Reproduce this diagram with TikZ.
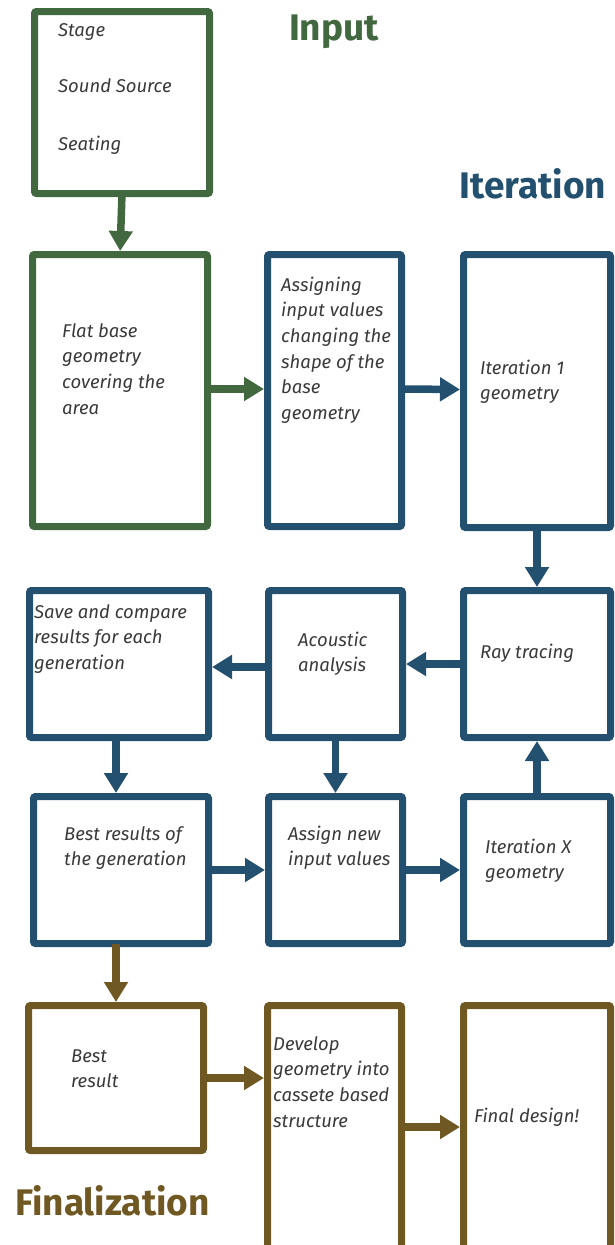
\documentclass[tikz,border=0pt]{standalone}
\usepackage{fontspec}
\setmainfont{Fira Sans}
\usetikzlibrary{arrows.meta}
\definecolor{cgreen}{HTML}{426840}
\definecolor{cblue}{HTML}{23506E}
\definecolor{cbrown}{HTML}{705823}
\definecolor{ctext}{HTML}{3A3A3A}
\newcommand{\txtlines}[1]{\begin{tabular}[t]{@{}l@{}}#1\end{tabular}}
\begin{document}
\begin{tikzpicture}[x=1pt,y=-1pt,
  box/.style={draw, line width=7pt, rounded corners=2pt, fill=white, inner sep=0pt, outer sep=0pt},
  gbox/.style={box, draw=cgreen},
  bbox/.style={box, draw=cblue},
  nbox/.style={box, draw=cbrown},
  arr/.style={line width=7.5pt, shorten >=3.5pt, -{Triangle[length=20pt,width=23pt]}},
  txt/.style={font=\fontsize{18.5}{25.7}\selectfont\itshape, text=ctext, inner sep=0pt, anchor=base west},
  ttl/.style={font=\fontsize{37}{40}\selectfont\bfseries, anchor=base, inner sep=0pt}]
\useasboundingbox (0,0) rectangle (614,1245);
\clip (0,0) rectangle (614,1245);
% boxes
\node[gbox, minimum width=175pt, minimum height=182pt] (A) at (122,102.5) {};
\node[gbox, minimum width=175pt, minimum height=272pt] (B) at (120,390.5) {};
\node[bbox, minimum width=134pt, minimum height=272pt] (C) at (334.5,390.5) {};
\node[bbox, minimum width=147pt, minimum height=273pt] (D) at (537,391) {};
\node[bbox, minimum width=179pt, minimum height=147pt] (E) at (119,664) {};
\node[bbox, minimum width=134pt, minimum height=147pt] (F) at (335.5,664) {};
\node[bbox, minimum width=147pt, minimum height=147pt] (G) at (537,664) {};
\node[bbox, minimum width=175pt, minimum height=147pt] (H) at (121,870) {};
\node[bbox, minimum width=134pt, minimum height=147pt] (I) at (335.5,870) {};
\node[bbox, minimum width=147pt, minimum height=147pt] (J) at (537,870) {};
\node[nbox, minimum width=175pt, minimum height=145pt] (K) at (116,1078) {};
\node[nbox, minimum width=134pt, minimum height=243pt] (L) at (334.5,1127) {};
\node[nbox, minimum width=147pt, minimum height=243pt] (M) at (537,1127) {};
% titles
\node[ttl, text=cgreen] (tin) at (334,40) {Input};
\node[ttl, text=cblue] (tit) at (533,198) {Iteration};
\node[ttl, text=cbrown] (tfi) at (112.5,1215) {Finalization};
% texts
\node[txt] (a1) at (58,36) {Stage};
\node[txt] (a2) at (58,92) {Sound Source};
\node[txt] (a3) at (58,150) {Seating};
\node[txt] (b1) at (62,337) {\txtlines{Flat base\\geometry\\covering the\\area}};
\node[txt] (c1) at (281,291) {\txtlines{Assigning\\input values\\changing the\\shape of the\\base\\geometry}};
\node[txt] (d1) at (480,374) {\txtlines{Iteration 1\\geometry}};
\node[txt] (e1) at (34,618) {\txtlines{Save and compare\\results for each\\generation}};
\node[txt] (f1) at (298,646) {\txtlines{Acoustic\\analysis}};
\node[txt] (g1) at (480,658) {Ray tracing};
\node[txt] (h1) at (64,840) {\txtlines{Best results of\\the generation}};
\node[txt] (i1) at (288,840) {\txtlines{Assign new\\input values}};
\node[txt] (j1) at (485,853) {\txtlines{Iteration X\\geometry}};
\node[txt] (k1) at (71,1062) {\txtlines{Best\\result}};
\node[txt] (l1) at (273,1050) {\txtlines{Develop\\geometry into\\cassete based\\structure}};
\node[txt] (m1) at (474,1122) {Final design!};
% arrows
\draw[arr, cgreen] (A.south) -- (B.north);
\draw[arr, cgreen] ([yshift=1.5pt]B.east) -- ([yshift=1.5pt]C.west);
\draw[arr, cblue] ([yshift=1.5pt]C.east) -- ([yshift=1.5pt]D.west);
\draw[arr, cblue] (D.south) -- (G.north);
\draw[arr, cblue] (G.west) -- (F.east);
\draw[arr, cblue] ([yshift=-3pt]F.west) -- ([yshift=-3pt]E.east);
\draw[arr, cblue] ([xshift=-3pt]E.south) -- ([xshift=-3pt]E.south |- H.north);
\draw[arr, cblue] (F.south) -- (I.north);
\draw[arr, cblue] (H.east) -- (I.west);
\draw[arr, cblue] (I.east) -- (J.west);
\draw[arr, cblue] (J.north) -- (G.south);
\draw[arr, cbrown] (H.south -| K.north) -- (K.north);
\draw[arr, cbrown] (K.east) -- (K.east -| L.west);
\draw[arr, cbrown] (L.east) -- (M.west);
\end{tikzpicture}
\end{document}
